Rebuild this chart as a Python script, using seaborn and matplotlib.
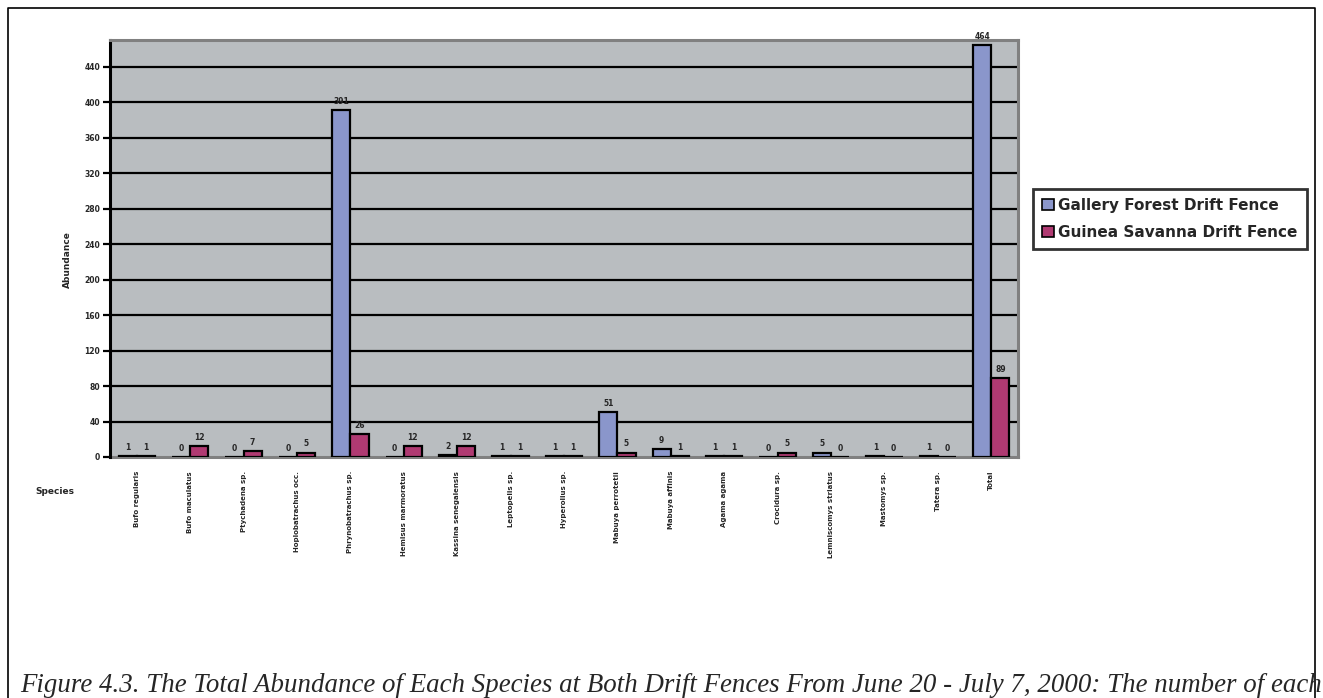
import matplotlib
matplotlib.use("Agg")
import matplotlib.pyplot as plt
import seaborn as sns
import pandas as pd
from matplotlib.patches import Patch
from matplotlib.lines import Line2D

species = [
    "Bufo regularis", "Bufo maculatus", "Ptychadena sp.", "Hoplobatrachus occ.",
    "Phrynobatrachus sp.", "Hemisus marmoratus", "Kassina senegalensis",
    "Leptopelis sp.", "Hyperolius sp.", "Mabuya perrotetii", "Mabuya affinis",
    "Agama agama", "Crocidura sp.", "Lemniscomys striatus", "Mastomys sp.",
    "Tatera sp.", "Total",
]
gallery_forest = [1, 0, 0, 0, 391, 0, 2, 1, 1, 51, 9, 1, 0, 5, 1, 1, 464]
guinea_savanna = [1, 12, 7, 5, 26, 12, 12, 1, 1, 5, 1, 1, 5, 0, 0, 0, 89]
fence_names = ["Gallery Forest Drift Fence", "Guinea Savanna Drift Fence"]
y_ticks = list(range(0, 441, 40))

df = pd.DataFrame({
    "Species": species * 2,
    "Abundance": gallery_forest + guinea_savanna,
    "Fence": [fence_names[0]] * len(species) + [fence_names[1]] * len(species),
})

sns.set_theme(style="white")
plt.rcParams["font.family"] = ["DejaVu Sans"]

W, H = 1323, 698
fig = plt.figure(figsize=(W / 100, H / 100), dpi=100)
fig.patch.set_facecolor("white")

ax = fig.add_axes([110 / W, 1 - 457 / H, (1018 - 110) / W, (457 - 40) / H])
ax.set_facecolor("#B9BDC0")

colors = ["#8A96CB", "#B03A72"]
sns.barplot(data=df, x="Species", y="Abundance", hue="Fence", order=species,
            hue_order=fence_names, palette=colors, edgecolor="black",
            linewidth=1.6, width=0.68, saturation=1, ax=ax, legend=False, zorder=3)

ax.set_ylim(0, 470)
ax.set_xlim(-0.5, len(species) - 0.5)
ax.set_yticks(y_ticks)
ax.set_yticklabels([str(v) for v in y_ticks], fontsize=5.5, fontweight="bold")
for v in y_ticks[1:]:
    ax.axhline(v, color="black", lw=1.6, zorder=1)

for cont in ax.containers:
    ax.bar_label(cont, fmt="%d", fontsize=5.5, fontweight="bold", padding=3)

ax.set_xticks(range(len(species)))
ax.set_xticklabels(species, rotation=90, fontsize=5, fontweight="bold", va="top")
ax.tick_params(axis="x", length=0, pad=10)
ax.tick_params(axis="y", length=5, width=1.6, color="black", direction="out",
               left=True, pad=2)

for side in ("top", "right", "bottom"):
    ax.spines[side].set_color("#808080")
    ax.spines[side].set_linewidth(2.2)
ax.spines["left"].set_color("black")
ax.spines["left"].set_linewidth(2.2)
ax.spines["bottom"].set_zorder(2)

ax.set_xlabel("")
ax.set_ylabel("")
fig.text(67 / W, 1 - 260 / H, "Abundance", rotation=90, fontsize=6.5,
         fontweight="bold", ha="center", va="center")
fig.text(55 / W, 1 - 491 / H, "Species", fontsize=6.5, fontweight="bold",
         ha="center", va="center")

handles = [Patch(facecolor=c, edgecolor="black", linewidth=1.2) for c in colors]
leg = fig.legend(handles, fence_names, loc="upper left",
                 bbox_to_anchor=(1033 / W, 1 - 189 / H), frameon=True,
                 fontsize=11, handlelength=0.75, handleheight=0.75,
                 handletextpad=0.3, borderpad=0.6, labelspacing=0.75,
                 fancybox=False, borderaxespad=0)
leg.get_frame().set_edgecolor("black")
leg.get_frame().set_linewidth(2)
for t in leg.get_texts():
    t.set_fontweight("bold")

# page frame around the figure panel
frame = Line2D([8 / W, 8 / W, 1315 / W, 1315 / W], [0, 1 - 8 / H, 1 - 8 / H, 0],
               transform=fig.transFigure, color="black", lw=1.2)
fig.add_artist(frame)

fig.text(20 / W, 1 - 692 / H,
         "Figure 4.3. The Total Abundance of Each Species at Both Drift Fences "
         "From June 20 - July 7, 2000: The number of each",
         fontsize=19.4, fontstyle="italic", family="Liberation Serif",
         ha="left", va="baseline")

fig.savefig("out.png", dpi=100)
